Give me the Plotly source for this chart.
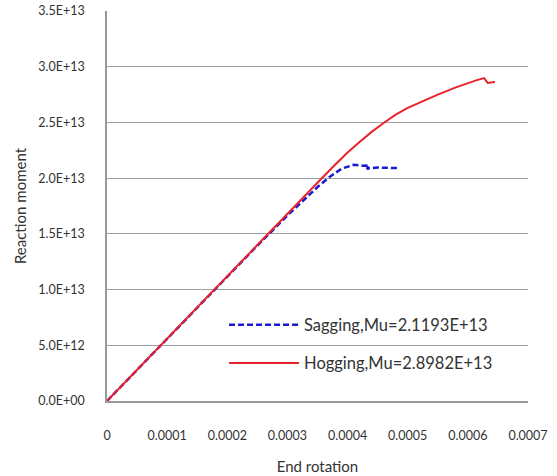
import plotly.graph_objects as go

# Hogging (red, solid)
hog_x = [0, 0.00005, 0.0001, 0.00015, 0.0002, 0.00025, 0.0003, 0.00032, 0.00034,
         0.00036, 0.00038, 0.0004, 0.00042, 0.00044, 0.00046, 0.00048, 0.0005,
         0.00052, 0.00055, 0.00058, 0.0006, 0.000615, 0.000627, 0.000633, 0.000645]
hog_y = [0, 2.81e12, 5.62e12, 8.43e12, 1.124e13, 1.405e13, 1.686e13, 1.795e13, 1.905e13,
         2.015e13, 2.125e13, 2.23e13, 2.325e13, 2.415e13, 2.495e13, 2.57e13, 2.63e13,
         2.68e13, 2.75e13, 2.815e13, 2.855e13, 2.88e13, 2.8982e13, 2.855e13, 2.862e13]

# Sagging (blue, dashed)
sag_x = [0, 0.00005, 0.0001, 0.00015, 0.0002, 0.00025, 0.0003, 0.00033, 0.00035,
         0.00037, 0.00039, 0.00041, 0.000425, 0.000436, 0.000432, 0.00045, 0.000486]
sag_y = [0, 2.8e12, 5.6e12, 8.4e12, 1.12e13, 1.395e13, 1.665e13, 1.82e13, 1.92e13,
         2.01e13, 2.085e13, 2.1193e13, 2.112e13, 2.115e13, 2.085e13, 2.095e13, 2.09e13]

y_ticks = [0, 5e12, 1e13, 1.5e13, 2e13, 2.5e13, 3e13, 3.5e13]
y_tick_text = ["0.0E+00", "5.0E+12", "1.0E+13", "1.5E+13", "2.0E+13", "2.5E+13",
               "3.0E+13", "3.5E+13"]
x_ticks = [0, 0.0001, 0.0002, 0.0003, 0.0004, 0.0005, 0.0006, 0.0007]
x_tick_text = ["0", "0.0001", "0.0002", "0.0003", "0.0004", "0.0005", "0.0006", "0.0007"]

FONT = "Lato, Open Sans, sans-serif"

fig = go.Figure()
fig.add_trace(go.Scatter(x=sag_x, y=sag_y, mode="lines",
                         name="Sagging,Mu=2.1193E+13",
                         line=dict(color="#1a1ad6", width=2.5, dash="6px,3px"),
                         legend="legend", showlegend=True))
fig.add_trace(go.Scatter(x=hog_x, y=hog_y, mode="lines",
                         name="Hogging,Mu=2.8982E+13",
                         line=dict(color="#e8232b", width=2),
                         legend="legend2", showlegend=True))

fig.update_layout(
    width=557, height=476,
    margin=dict(l=107, r=29, t=11, b=75),
    paper_bgcolor="white", plot_bgcolor="white",
    showlegend=True,
    font=dict(family=FONT, color="#333333", size=12.5),
    legend=dict(x=0.278, y=0.195, xanchor="left", yanchor="middle", itemwidth=70,
                bgcolor="rgba(0,0,0,0)", font=dict(size=16.5, color="#333333")),
    legend2=dict(x=0.278, y=0.097, xanchor="left", yanchor="middle", itemwidth=70,
                 bgcolor="rgba(0,0,0,0)", font=dict(size=16.5, color="#333333")),
    xaxis=dict(range=[0, 0.0007], tickvals=x_ticks, ticktext=x_tick_text,
               showgrid=False, zeroline=False, showline=True, linecolor="#999999",
               linewidth=1.5, ticks="", ticklabelstandoff=22, automargin=False,
               title=dict(text="End rotation", font=dict(size=15), standoff=20)),
    yaxis=dict(range=[0, 3.5e13], tickvals=y_ticks, ticktext=y_tick_text,
               showgrid=True, gridcolor="#a0a0a0", gridwidth=1.2, zeroline=False,
               showline=True, linecolor="#999999", linewidth=1.5, ticks="",
               ticklabelstandoff=18, automargin=False,
               title=dict(text="Reaction moment", font=dict(size=15), standoff=8)),
)

fig.write_html("out.html")
